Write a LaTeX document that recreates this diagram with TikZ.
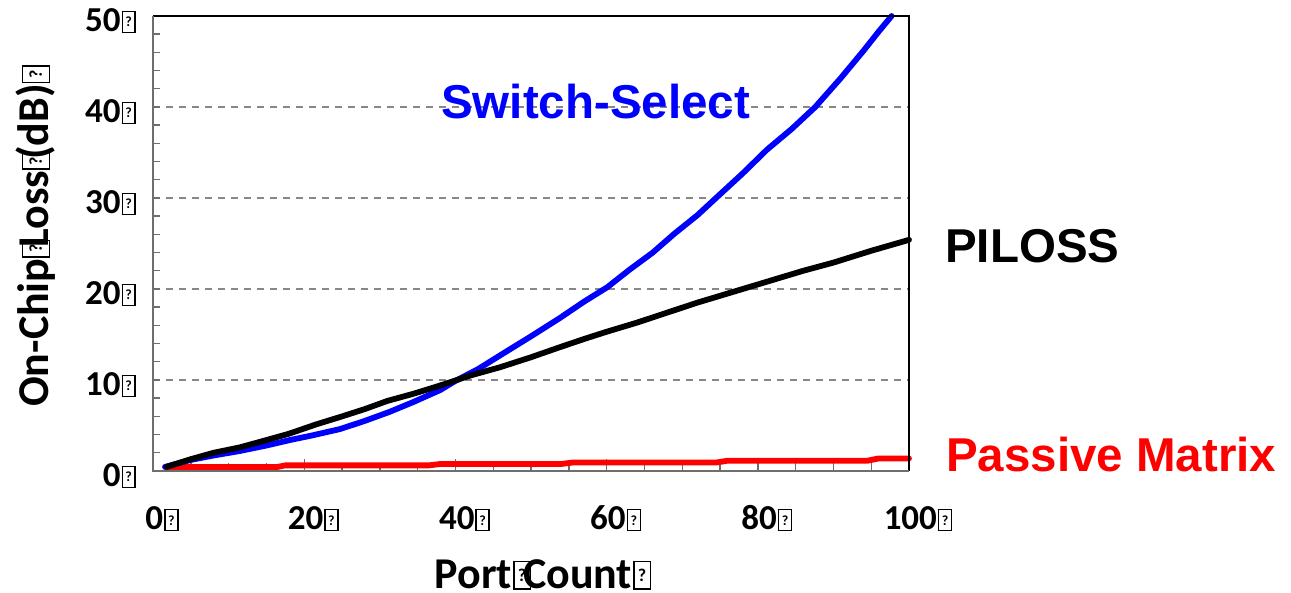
\documentclass[tikz,border=0pt]{standalone}
\usepackage{fontspec}
\setmainfont{Carlito}
\newfontfamily\arialfont{Liberation Sans}

% missing-glyph box with a question mark: #1 width, #2 height, #3 size of the mark, #4 frame, #5 raise of the mark
\newcommand{\qboxgen}[5]{\begingroup\setlength{\fboxsep}{0pt}\setlength{\fboxrule}{#4}%
  \kern1pt\fbox{\makebox[#1]{\rule{0pt}{#2}\raisebox{#5}{\fontsize{#3}{#3}\selectfont\bfseries ?}}}\endgroup}
\newcommand{\qbox}{\qboxgen{11.5pt}{20pt}{14pt}{1.4pt}{5pt}}
\newcommand{\qboxt}{\qboxgen{15pt}{26pt}{18pt}{1.5pt}{7pt}}

\definecolor{gridgray}{RGB}{135,135,135}
\definecolor{axisgray}{RGB}{110,110,110}

\tikzset{
  ticklabel/.style={font=\fontsize{35}{40}\selectfont\bfseries, inner sep=0pt},
  axistitle/.style={font=\fontsize{44}{50}\selectfont\bfseries, inner sep=0pt},
  serieslabel/.style={font=\arialfont\fontsize{47.5}{52}\selectfont\bfseries, inner sep=0pt, anchor=base west},
  gridline/.style={draw=gridgray, line width=1.3pt, dash pattern=on 7pt off 6pt},
  tickmark/.style={draw=axisgray, line width=1.4pt},
  series/.style={line width=5.8pt, line join=round, line cap=round},
}

\begin{document}
\begin{tikzpicture}[x=1pt,y=1pt]
\useasboundingbox (0,0) rectangle (1291,592);

% plot area: data coordinates (port count, loss in dB)
\begin{scope}[shift={(153pt,121pt)}, x=7.56pt, y=9.1pt]
  % horizontal grid
  \foreach \v in {10,20,30,40}
    \draw[gridline] (0,\v) -- (100,\v);
  % minor ticks on the loss axis
  \foreach \v in {2,4,...,48}
    \draw[tickmark] (0,\v) -- ++(7pt,0);
  % ticks on the port axis
  \foreach \n in {5,10,...,95}
    \draw[tickmark] (\n,0) -- ++(0,8pt);
  \foreach \n in {20,40,60,80}
    \draw[tickmark] (\n,0) -- ++(0,12pt);

  % Passive Matrix
  \draw[series, red] plot coordinates {(1.6,0.45) (16.5,0.45) (17.5,0.62) (36.5,0.62) (38,0.77)
    (54,0.77) (55.5,0.93) (74.5,0.93) (76,1.13) (94.5,1.13) (96,1.38) (100,1.38)};
  % Switch-Select
  \draw[series, blue] plot coordinates {(1.6,0.45) (4.9,1.2) (8,1.7) (11.5,2.2) (15,2.8) (18.1,3.4)
    (21,3.9) (24.7,4.6) (28,5.5) (31.3,6.5) (34.5,7.6) (38,8.9) (40,9.9) (43,11.2) (45.9,12.7)
    (50,14.8) (53.8,16.8) (57,18.6) (60.1,20.2) (63,22.1) (66.1,24.0) (69,26.1) (72,28.1)
    (74.6,30.1) (78,32.7) (81.2,35.3) (84.5,37.6) (87.6,40.0) (91,43.2) (94,46.2) (96,48.3) (97.7,50)};
  % PILOSS
  \draw[series, black] plot coordinates {(1.8,0.45) (5,1.3) (8,2.0) (11.5,2.6) (15,3.4) (18,4.1)
    (21.5,5.1) (25,6.0) (28,6.8) (31,7.7) (34.5,8.5) (38,9.4) (42,10.5) (45.9,11.4) (50,12.5)
    (53.8,13.6) (57,14.5) (60,15.3) (64,16.3) (68,17.4) (72,18.5) (77.6,19.9) (82,21.0)
    (86,22.0) (90,22.9) (95,24.2) (100,25.4)};

  % frame
  \draw[black, line width=2.6pt] (0,50) -- (100,50) -- (100,0);
  \draw[axisgray, line width=2.6pt] (0,50) -- (0,0) -- (100,0);
\end{scope}

% loss axis labels
\foreach \v in {0,10,...,50}
  \node[ticklabel, anchor=base east] (y\v) at (136, 105+9.1*\v) {\v\qbox};
% port axis labels
\foreach \n in {0,20,...,100}
  \node[ticklabel, anchor=base] (x\n) at (162+7.56*\n, 62) {\n\qbox};

% axis titles
\node[axistitle, anchor=base] (xtitle) at (543,4) {Port\qboxt\kern-8pt Count\qboxt};
\node[axistitle, anchor=base, rotate=90] (ytitle) at (49,356) {On-Chip\qboxt\kern-8pt Loss\qboxt\kern-8pt (dB)\qboxt};

% series labels
\node[serieslabel, text=blue] (sws) at (441,473) {Switch-Select};
\node[serieslabel, text=black] (piloss) at (945,329) {PILOSS};
\node[serieslabel, text=red] (passive) at (946,120) {Passive Matrix};
\end{tikzpicture}
\end{document}
